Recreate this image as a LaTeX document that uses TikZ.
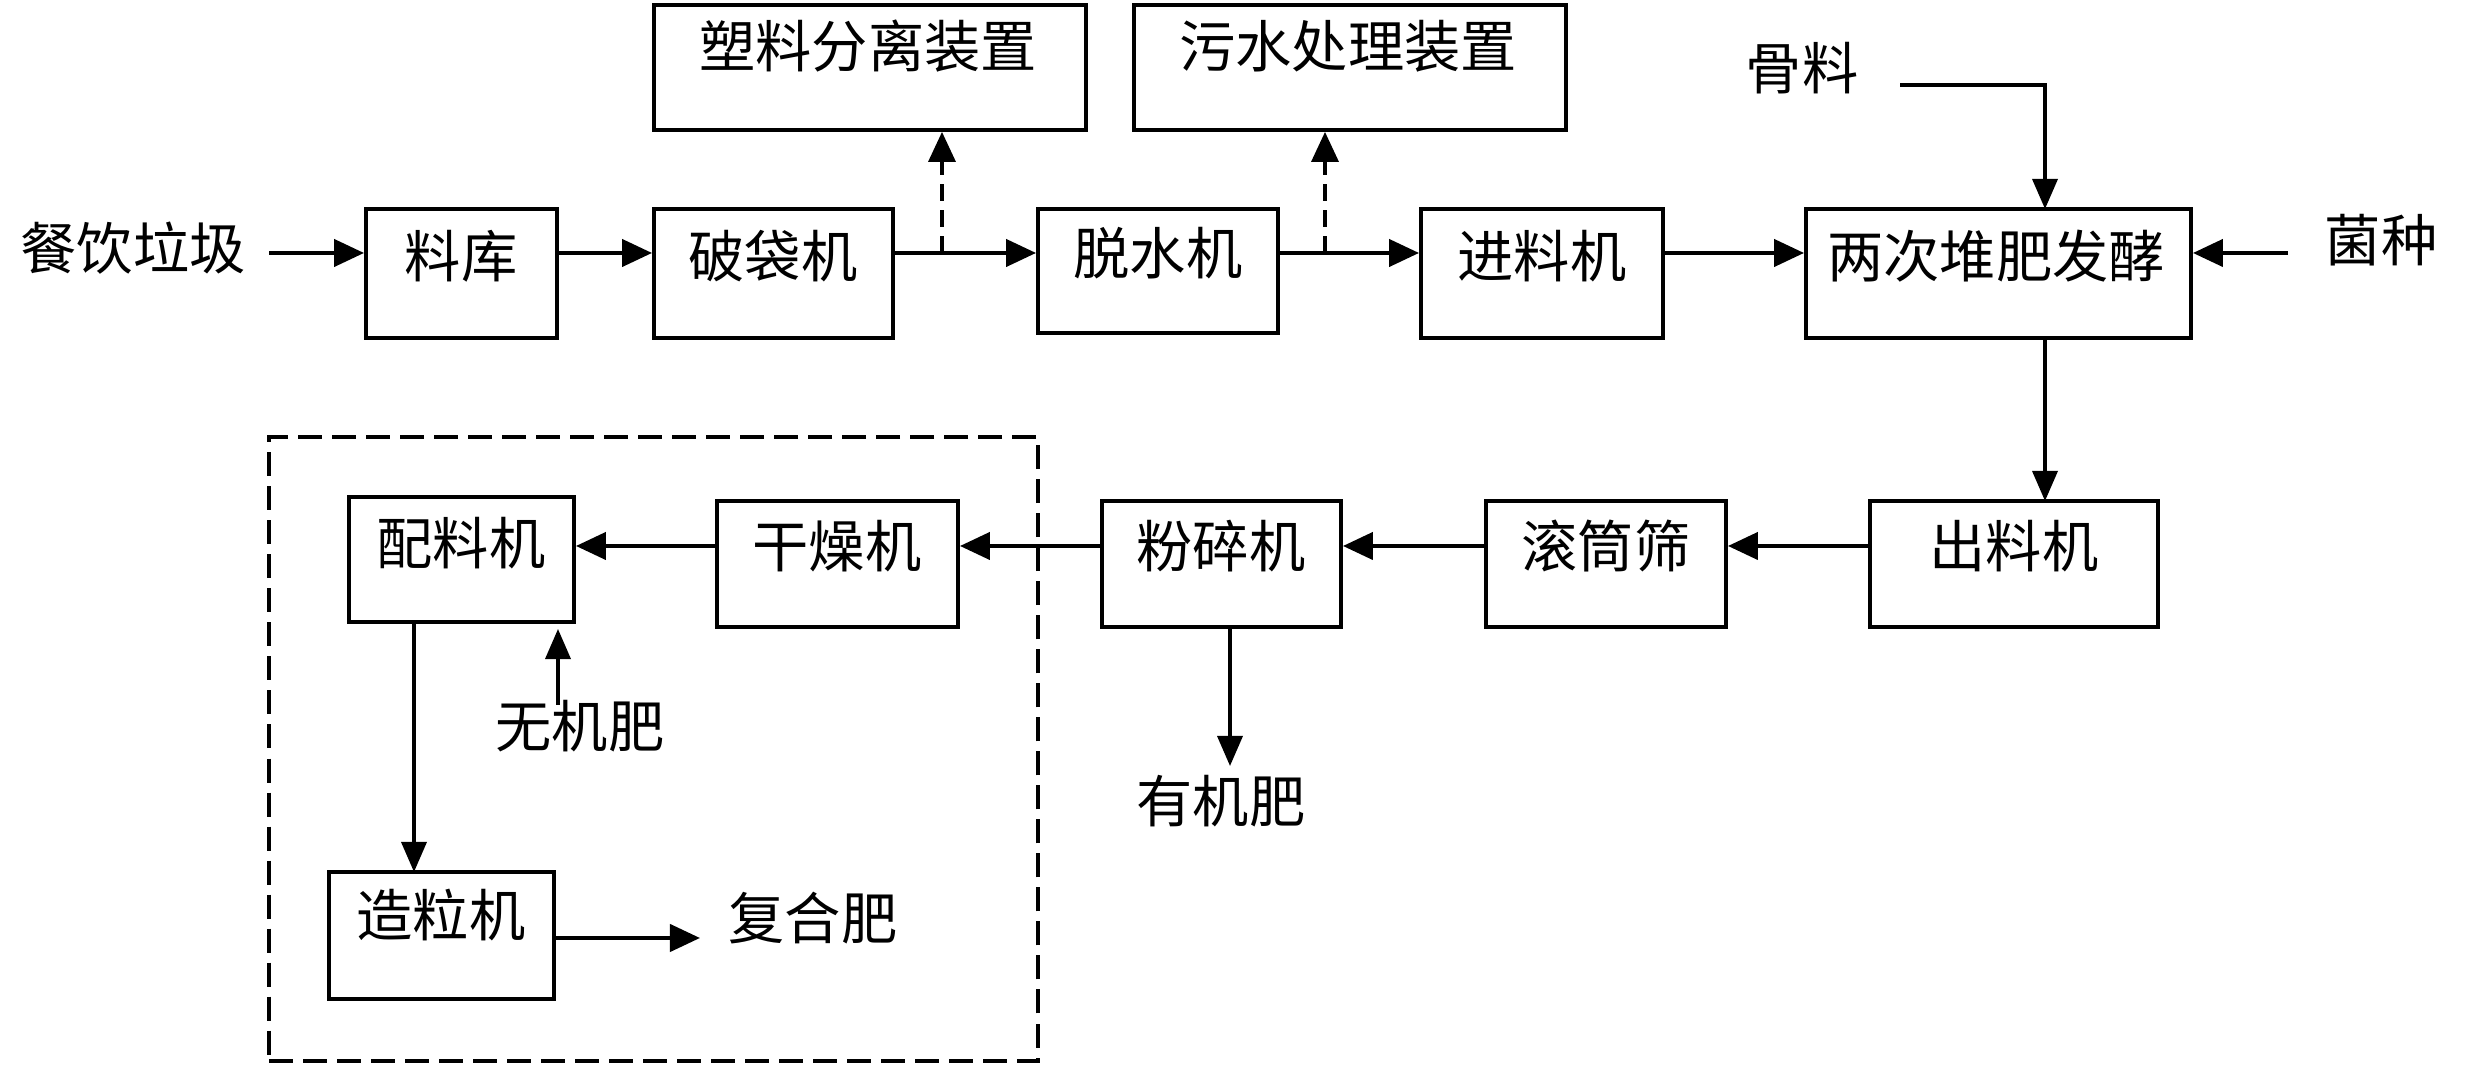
\documentclass[tikz,border=0pt]{standalone}
\usepackage{fontspec}
\setmainfont{Noto Sans CJK SC}
\usetikzlibrary{arrows.meta,fit}
\begin{document}
\begin{tikzpicture}[x=0.01cm,y=-0.01cm,
  box/.style={draw, line width=1.1pt, inner sep=0pt},
  txt/.style={font=\fontsize{16pt}{18pt}\selectfont, inner sep=0pt},
  arr/.style={line width=1.2pt, -{Triangle[length=0.3cm,width=0.27cm]}},
  thinarr/.style={line width=1pt, -{Triangle[length=0.3cm,width=0.25cm]}},
  dasharr/.style={line width=1pt, dash pattern=on 0.17cm off 0.09cm, -{Triangle[length=0.3cm,width=0.27cm]}},
  group/.style={draw, line width=1pt, dash pattern=on 0.24cm off 0.1cm, inner sep=0pt}
]
\useasboundingbox (0,0) rectangle (2484,1068);
\coordinate (rowA) at (0,253);
\coordinate (rowB) at (0,546);

% top row boxes
\node[box, fit={(366,209) (557,338)}] (liaoku) {};
\node[txt] at (461,256) {料库};
\node[box, fit={(654,209) (893,338)}] (podai) {};
\node[txt] at (773,256) {破袋机};
\node[box, fit={(1038,209) (1278,333)}] (tuoshui) {};
\node[txt] at (1158,253) {脱水机};
\node[box, fit={(1421,209) (1663,338)}] (jinliao) {};
\node[txt] at (1542,256) {进料机};
\node[box, fit={(1806,209) (2191,338)}] (fajiao) {};
\node[txt] at (1996,256) {两次堆肥发酵};
\node[box, fit={(654,5) (1086,130)}] (suliao) {};
\node[txt] at (868,46) {塑料分离装置};
\node[box, fit={(1134,5) (1566,130)}] (wushui) {};
\node[txt] at (1348,46) {污水处理装置};

\node[txt] (canyin) at (133,248) {餐饮垃圾};
\node[txt] (guliao) at (1802,68) {骨料};
\node[txt] (junzhong) at (2381,240) {菌种};

% middle row
\node[box, fit={(1870,501) (2158,627)}] (chuliao) {};
\node[txt] at (2014,546) {出料机};
\node[box, fit={(1486,501) (1726,627)}] (guntong) {};
\node[txt] at (1606,546) {滚筒筛};
\node[box, fit={(1102,501) (1341,627)}] (fensui) {};
\node[txt] at (1221,546) {粉碎机};
\node[box, fit={(717,501) (958,627)}] (ganzao) {};
\node[txt] at (837,546) {干燥机};
\node[box, fit={(349,497) (574,622)}] (peiliao) {};
\node[txt] at (461,543) {配料机};
\node[box, fit={(329,872) (554,999)}] (zaoli) {};
\node[txt] at (441,915) {造粒机};

\node[txt] (youji) at (1221,801) {有机肥};
\node[txt] (wuji) at (580,726) {无机肥};
\node[txt] (fuhe) at (813,918) {复合肥};

\node[group, fit={(269,437) (1038,1061)}] (grp) {};

% connectors top row
\coordinate (c1) at (269,253);
\draw[arr] (c1) -- (liaoku.west |- rowA);
\draw[arr] (liaoku.east |- rowA) -- (podai.west |- rowA);
\draw[arr] (podai.east |- rowA) -- (tuoshui.west |- rowA);
\draw[arr] (tuoshui.east |- rowA) -- (jinliao.west |- rowA);
\draw[arr] (jinliao.east |- rowA) -- (fajiao.west |- rowA);
\coordinate (c2) at (2288,253);
\draw[arr] (c2) -- (fajiao.east |- rowA);
\coordinate (d1) at (942,253);
\draw[dasharr] (d1) -- (d1 |- suliao.south);
\coordinate (d2) at (1325,253);
\draw[dasharr] (d2) -- (d2 |- wushui.south);
\coordinate (g1) at (1900,85);
\draw[thinarr] (g1) -- (2045,85) -- (2045,209);

% vertical and middle row
\draw[thinarr] (2045,338) -- (2045,501);
\draw[arr] (chuliao.west |- rowB) -- (guntong.east |- rowB);
\draw[arr] (guntong.west |- rowB) -- (fensui.east |- rowB);
\draw[arr] (fensui.west |- rowB) -- (ganzao.east |- rowB);
\draw[arr] (ganzao.west |- rowB) -- (peiliao.east |- rowB);
\draw[thinarr] (1230,627) -- (1230,766);
\coordinate (w1) at (558,705);
\draw[thinarr] (w1) -- (558,629);
\draw[thinarr] (414,622) -- (414,872);
\coordinate (f1) at (700,938);
\draw[arr] (554,938) -- (f1);
\end{tikzpicture}
\end{document}
